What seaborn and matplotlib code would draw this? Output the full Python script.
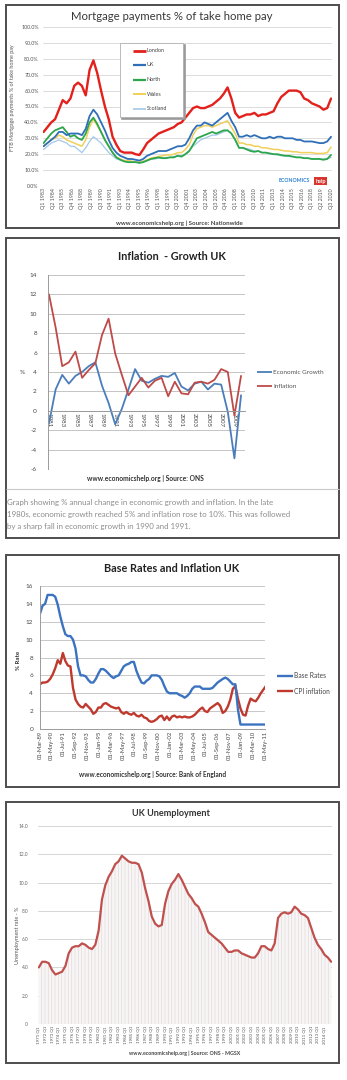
import matplotlib
matplotlib.use("Agg")
import matplotlib.pyplot as plt
from matplotlib.patches import Rectangle
from matplotlib.lines import Line2D
import numpy as np
import pandas as pd
import seaborn as sns

# ---------------- data ----------------
# Mortgage payments as % of take-home pay, half-yearly (Q1, Q3) from Q1 1983 to Q3 2020
mort_london = [34, 37, 40, 42, 48, 54, 52, 55, 63, 65, 63, 57, 73, 79, 71, 60, 50, 42, 31, 26,
               22, 21, 21, 21, 20, 19.5, 23, 27, 29, 31, 33, 34, 35, 36, 37, 39, 40, 43, 46, 49,
               50, 49, 49, 50, 51, 53, 55, 58, 62, 55, 46, 43, 44, 45, 45, 46, 44, 45, 45, 46,
               47, 52, 56, 58, 60, 60, 60, 59, 55, 54, 52, 51, 50, 48, 49, 55]
mort_uk = [25, 27, 29, 31, 34, 34, 32, 33, 33, 33, 32, 36, 44, 48, 45, 40, 35, 29, 24, 21,
           19, 18, 17, 17, 16.5, 16, 17, 19, 20, 21, 22, 22, 22, 23, 24, 25, 25, 26, 30, 35,
           38, 38, 40, 39, 38, 40, 42, 44, 46, 41, 37, 31, 31, 32, 31, 32, 31, 30, 30, 31,
           30, 31, 31, 30, 30, 30, 29, 29, 28, 28, 28, 27.5, 27, 27, 28, 31]
mort_north = [27, 30, 33, 35, 36, 37, 34, 31, 32, 30, 29, 33, 40, 43, 39, 34, 29, 25, 21, 18,
              16.5, 15.5, 15, 15, 15, 14.5, 15, 16, 17, 17.5, 18, 17.5, 17.5, 18, 18, 19, 18.5, 20, 22, 26,
              30, 31, 32, 33, 34, 33, 34, 35, 35, 33, 29, 24, 24, 23, 22, 21.5, 22, 21, 21, 20.5,
              20, 20, 19.5, 19, 19, 18.5, 18, 18, 17.5, 17.5, 17, 17, 17, 16.5, 17, 19.5]
mort_wales = [25, 27, 29, 30, 32, 31, 29, 28, 27, 26, 25, 29, 37, 42, 38, 34, 29, 25, 21, 18,
              17, 16, 16, 15.5, 15, 15, 15.5, 16.5, 17.5, 18, 18.5, 19, 19.5, 19.5, 20, 21, 21, 23, 26, 32,
              36, 37, 38, 38, 37, 38, 39, 40, 41, 37, 33, 27, 27, 26, 26, 25, 25, 24, 24, 23.5,
              23, 23, 22.5, 22, 22, 21.5, 21.5, 21, 21, 21, 21, 20.5, 20.5, 20.5, 21, 24.5]
mort_scotland = [23, 25, 27, 28, 29, 28, 27, 25, 25, 23, 21, 24, 28, 31, 29, 27, 24, 21, 19, 17,
                 16.5, 16, 16, 15.5, 15, 15, 15.5, 16, 17, 17, 17.5, 17.5, 18, 18, 18.5, 19, 19, 20, 22, 25,
                 27, 29, 30, 31, 32, 32, 33, 34, 35, 33, 29, 24, 24, 23.5, 23, 22, 22, 21, 21, 20,
                 20, 19.5, 19, 19, 18.5, 18.5, 18, 18, 17.5, 17.5, 17, 17, 17, 17, 17, 18]
mort_regions = ["London", "UK", "North", "Wales", "Scotland"]
mort_colors = ["#e3201b", "#2f6fb7", "#2ca64c", "#f1cf5a", "#a3c8ea"]
mort_widths = [1.7, 1.3, 1.3, 1.1, 0.9]

# Annual % change, 1981-2010
infl_years = list(range(1981, 2011))
econ_growth = [-1.3, 2.2, 3.7, 2.8, 3.6, 4.0, 4.6, 5.0, 2.6, 0.8, -1.4, 0.2, 2.2, 4.3, 3.1,
               2.9, 3.3, 3.6, 3.5, 3.9, 2.5, 2.1, 2.8, 3.0, 2.2, 2.8, 2.7, -0.1, -4.9, 1.6]
inflation = [12.0, 8.6, 4.6, 5.0, 6.1, 3.4, 4.2, 4.9, 7.8, 9.5, 5.9, 3.7, 1.6, 2.5, 3.4,
             2.4, 3.1, 3.4, 1.5, 3.0, 1.8, 1.7, 2.9, 3.0, 2.8, 3.2, 4.3, 4.0, -0.5, 3.6]

# Quarterly readings from Mar 1989 (months since Mar 1989 = 3 * index)
base_rate = [12.9, 13.8, 14.0, 15.0, 15.0, 15.0, 14.8, 13.9, 12.6, 11.5, 10.6, 10.4, 10.4, 10.0, 9.0,
             7.0, 6.0, 6.0, 5.9, 5.5, 5.2, 5.2, 5.6, 6.2, 6.7, 6.7, 6.5, 6.2, 5.9, 5.7,
             5.9, 6.0, 6.5, 7.0, 7.2, 7.3, 7.5, 7.5, 6.5, 5.8, 5.2, 5.1, 5.4, 5.6, 6.0,
             6.0, 6.0, 5.9, 5.5, 4.8, 4.2, 4.0, 4.0, 4.0, 4.0, 3.8, 3.7, 3.5, 3.7, 4.0,
             4.5, 4.75, 4.75, 4.75, 4.5, 4.5, 4.5, 4.5, 4.6, 4.9, 5.2, 5.4, 5.6, 5.75, 5.6,
             5.3, 5.0, 5.0, 2.2, 0.5, 0.5, 0.5, 0.5, 0.5, 0.5, 0.5, 0.5, 0.5, 0.5, 0.5]
cpi_inflation = [5.0, 5.2, 5.2, 5.3, 5.6, 6.1, 6.8, 7.7, 7.3, 8.5, 7.6, 7.1, 7.0, 4.6, 3.3,
                 2.8, 2.5, 2.4, 2.8, 2.5, 2.2, 1.7, 1.9, 2.4, 2.4, 2.8, 2.9, 2.7, 2.5, 2.4,
                 2.3, 2.4, 1.9, 1.7, 1.9, 1.7, 1.6, 1.8, 1.5, 1.4, 1.6, 1.3, 1.2, 0.9, 0.8,
                 0.9, 1.1, 1.4, 1.5, 1.0, 1.4, 1.0, 1.4, 1.5, 1.3, 1.4, 1.3, 1.4, 1.3, 1.3,
                 1.4, 1.6, 1.9, 2.2, 2.4, 2.0, 1.9, 2.3, 2.5, 2.7, 2.9, 2.6, 1.8, 2.0, 2.5,
                 3.3, 4.5, 4.8, 3.4, 2.3, 1.6, 1.5, 2.6, 3.4, 3.2, 3.1, 3.5, 4.0, 4.4, 4.8]
rate_date_labels = ["01-Mar-89", "01-May-90", "01-Jul-91", "01-Sep-92", "01-Nov-93", "01-Jan-95",
                    "01-Mar-96", "01-May-97", "01-Jul-98", "01-Sep-99", "01-Nov-00", "01-Jan-02",
                    "01-Mar-03", "01-May-04", "01-Jul-05", "01-Sep-06", "01-Nov-07", "01-Jan-09",
                    "01-Mar-10", "01-May-11"]

# Unemployment rate %, half-yearly from 1971 Q1 to 2015 Q1
unemployment = [4.0, 4.4, 4.4, 4.3, 3.8, 3.5, 3.6, 3.7, 4.1, 5.0, 5.4, 5.5, 5.5, 5.7, 5.6,
                5.4, 5.3, 5.6, 6.6, 8.8, 9.8, 10.4, 10.8, 11.3, 11.5, 11.9, 11.7, 11.5, 11.4, 11.4,
                11.3, 10.7, 9.6, 8.7, 7.6, 7.1, 6.9, 7.0, 8.5, 9.4, 9.9, 10.2, 10.6, 10.2, 9.7,
                9.2, 8.9, 8.5, 8.3, 7.8, 7.2, 6.5, 6.3, 6.1, 5.9, 5.7, 5.4, 5.1, 5.1, 5.2,
                5.2, 5.0, 4.9, 4.8, 4.7, 4.7, 5.0, 5.5, 5.5, 5.3, 5.2, 5.7, 7.5, 7.8, 7.9,
                7.8, 7.9, 8.3, 8.1, 7.8, 7.7, 7.5, 6.8, 6.1, 5.6, 5.3, 4.9, 4.7, 4.4]

# ---------------- style ----------------
sns.set_theme(style="white")
plt.rcParams["font.family"] = ["Lato", "DejaVu Sans"]
plt.rcParams["hatch.linewidth"] = 0.5

W, H = 347, 1080
fig = plt.figure(figsize=(W / 100, H / 100), dpi=100)
fig.patch.set_facecolor("white")


def px_axes(l, t, r, b):
    return fig.add_axes([l / W, 1 - b / H, (r - l) / W, (b - t) / H])


def frame(l, t, r, b, color="#4d4d4d", lw=1.4, fill=False, fc="none", z=0):
    fig.patches.append(Rectangle((l / W, 1 - b / H), (r - l) / W, (b - t) / H,
                                 transform=fig.transFigure, fill=fill, facecolor=fc,
                                 edgecolor=color, linewidth=lw, zorder=z))


def ftext(x, y, s, **kw):
    kw.setdefault("ha", "center")
    kw.setdefault("va", "center")
    kw.setdefault("zorder", 6)
    fig.text(x / W, 1 - y / H, s, **kw)


def fline(x0, x1, y, color, lw):
    fig.add_artist(Line2D([x0 / W, x1 / W], [1 - y / H, 1 - y / H], color=color,
                          linewidth=lw, transform=fig.transFigure, solid_capstyle="butt",
                          zorder=6))


def clean(ax, grid_color):
    ax.set_facecolor("none")
    ax.yaxis.grid(True, color=grid_color, linewidth=0.7)
    ax.xaxis.grid(False)
    ax.set_axisbelow(True)
    for s in ax.spines.values():
        s.set_visible(False)
    ax.tick_params(length=0, pad=1.5)
    ax.set_xlabel("")
    ax.set_ylabel("")


# panel frames
frame(6, 5, 339, 228)
frame(6, 238, 339, 538)
frame(6, 555, 339, 787)
frame(6, 802, 339, 1063)

# ---------------- 1. Mortgage payments ----------------
ax1 = px_axes(43, 27, 332, 186)
q_mort = np.arange(len(mort_london)) * 2
mort_df = pd.DataFrame({"q": q_mort, "London": mort_london, "UK": mort_uk, "North": mort_north,
                        "Wales": mort_wales, "Scotland": mort_scotland})
for name, col, lw in reversed(list(zip(mort_regions, mort_colors, mort_widths))):
    sns.lineplot(data=mort_df, x="q", y=name, ax=ax1, color=col, linewidth=lw)
clean(ax1, "#dcdcdc")
ax1.set_ylim(0, 100)
ax1.set_xlim(-0.3, 150.5)
ax1.set_yticks(np.arange(0, 101, 10))
ax1.set_yticklabels([f"{v:.1f}%" for v in np.arange(0, 101, 10)], fontsize=3.8, color="#555555")
mort_ticks = np.arange(0, 151, 5)
ax1.set_xticks(mort_ticks)
ax1.set_xticklabels([f"Q{q % 4 + 1} {1983 + q // 4}" for q in mort_ticks], rotation=90,
                    fontsize=3.8, color="#555555")
ax1.tick_params(axis="y", pad=3)

ftext(172, 17, "Mortgage payments % of take home pay", fontsize=8.2, color="#3a3a3a")
ftext(13, 98, "FTB Mortgage payments % of take home pay", rotation=90, fontsize=3.9, color="#555555")
ftext(179, 223, "www.economicshelp.org | Source: Nationwide", fontsize=4.4, color="#444444",
      weight="bold")

# legend box
frame(121.5, 44.5, 184.5, 118.5, color="#9a9a9a", lw=1.2, fill=True, fc="#9a9a9a", z=2)
frame(120, 43, 183, 117, color="#b0b0b0", lw=0.6, fill=True, fc="white", z=3)
for i, (name, col, lw) in enumerate(zip(mort_regions, mort_colors, mort_widths)):
    y = 50.5 + i * 14.5
    fline(133, 146, y, col, lw + 0.3)
    ftext(146.5, y, name, ha="left", fontsize=3.9, color="#444444")

# logo
ftext(294, 181, "ECONOMICS", fontsize=3.7, color="#2b7fd4", weight="bold")
ftext(320.5, 181, "help", fontsize=3.9, color="white", weight="bold",
      bbox=dict(facecolor="#d8352d", edgecolor="none", pad=0.9))

# ---------------- 2. Inflation - Growth ----------------
ax2 = px_axes(48, 275, 245, 469)
infl_df = pd.DataFrame({"i": np.arange(len(infl_years)), "Economic Growth": econ_growth,
                        "Inflation": inflation})
sns.lineplot(data=infl_df, x="i", y="Economic Growth", ax=ax2, color="#4a7ebb", linewidth=1.3)
sns.lineplot(data=infl_df, x="i", y="Inflation", ax=ax2, color="#be4b48", linewidth=1.3)
clean(ax2, "#c4c4c4")
ax2.set_ylim(-6, 14)
ax2.set_xlim(-0.15, 29.6)
ax2.set_yticks(np.arange(-6, 15, 2))
ax2.set_yticklabels([str(v) for v in np.arange(-6, 15, 2)], fontsize=4.6, color="#444444")
ax2.tick_params(axis="y", pad=8)
ax2.spines["left"].set_visible(True)
ax2.spines["left"].set_color("#9a9a9a")
ax2.spines["left"].set_linewidth(0.7)
ax2.spines["bottom"].set_visible(True)
ax2.spines["bottom"].set_position(("data", 0))
ax2.spines["bottom"].set_color("#9a9a9a")
ax2.spines["bottom"].set_linewidth(0.7)
ax2.set_xticks(np.arange(0, 30, 2))
ax2.set_xticklabels([str(y) for y in infl_years[::2]], rotation=270, fontsize=4.4, color="#444444")
ax2.tick_params(axis="x", pad=1.5)

ftext(172, 257, "Inflation  - Growth UK", fontsize=7.8, color="#222222", weight="bold")
ftext(22, 373, "%", fontsize=4.6, color="#444444")
fline(257, 272, 372, "#4a7ebb", 1.3)
ftext(273, 372, "Economic Growth", ha="left", fontsize=4.6, color="#555555")
fline(257, 272, 386, "#be4b48", 1.3)
ftext(273, 386, "Inflation", ha="left", fontsize=4.6, color="#555555")
ftext(145, 478, "www.economicshelp.org | Source: ONS", fontsize=4.8, color="#333333", weight="bold")
fline(6, 339, 489, "#c8c8c8", 0.8)
caption = ["Graph showing % annual change in economic growth and inflation. In the late",
           "1980s, economic growth reached 5% and inflation rose to 10%. This was followed",
           "by a sharp fall in economic growth in 1990 and 1991."]
for k, line in enumerate(caption):
    ftext(7, 503 + k * 11.6, line, ha="left", fontsize=5.7, color="#8c8c8c")

# ---------------- 3. Base rates and inflation ----------------
ax3 = px_axes(40, 586, 265, 729)
rate_df = pd.DataFrame({"m": np.arange(len(base_rate)) * 3, "Base Rates": base_rate,
                        "CPI inflation": cpi_inflation})
sns.lineplot(data=rate_df, x="m", y="CPI inflation", ax=ax3, color="#c0392f", linewidth=1.7)
sns.lineplot(data=rate_df, x="m", y="Base Rates", ax=ax3, color="#3b73c0", linewidth=1.7)
clean(ax3, "#c8c8c8")
ax3.set_ylim(0, 16)
ax3.set_xlim(0, 266)
ax3.set_yticks(np.arange(0, 17, 2))
ax3.set_yticklabels([str(v) for v in np.arange(0, 17, 2)], fontsize=4.6, color="#444444")
ax3.tick_params(axis="y", pad=5)
for side in ("left", "bottom"):
    ax3.spines[side].set_visible(True)
    ax3.spines[side].set_color("#9a9a9a")
    ax3.spines[side].set_linewidth(0.7)
ax3.set_xticks(np.arange(0, 267, 14))
ax3.set_xticklabels(rate_date_labels, rotation=90, fontsize=4.2, color="#444444")

ftext(172, 568, "Base Rates and Inflation UK", fontsize=7.8, color="#222222", weight="bold")
ftext(18, 660, "% Rate", rotation=90, fontsize=4.4, color="#333333", weight="bold")
fline(277, 293, 676, "#3b73c0", 1.7)
ftext(294, 676, "Base Rates", ha="left", fontsize=4.8, color="#444444")
fline(277, 293, 691, "#c0392f", 1.7)
ftext(294, 691, "CPI inflation", ha="left", fontsize=4.8, color="#444444")
ftext(153, 775, "www.economicshelp.org | Source: Bank of England", fontsize=4.7,
      color="#333333", weight="bold")

# ---------------- 4. UK unemployment ----------------
ax4 = px_axes(38, 826, 332, 1024)
q_unemp = np.arange(len(unemployment)) * 2
unemp_df = pd.DataFrame({"q": q_unemp, "rate": unemployment})
ax4.fill_between(unemp_df["q"], unemp_df["rate"], 0, facecolor="#f7f5f5", edgecolor="#e4dcdc",
                 hatch="|||||", linewidth=0)
sns.lineplot(data=unemp_df, x="q", y="rate", ax=ax4, color="#c0504d", linewidth=1.6)
clean(ax4, "#d6d6d6")
ax4.set_ylim(0, 14)
ax4.set_xlim(-0.5, 176.5)
ax4.set_yticks(np.arange(0, 15, 2))
ax4.set_yticklabels([".0"] + [f"{v:.1f}" for v in np.arange(2, 15, 2)], fontsize=3.4,
                    color="#666666")
ax4.tick_params(axis="y", pad=7)
unemp_ticks = np.arange(0, 176, 4)
ax4.set_xticks(unemp_ticks)
ax4.set_xticklabels([f"{1971 + q // 4} Q{q % 4 + 1}" for q in unemp_ticks], rotation=90,
                    fontsize=3.2, color="#555555")

ftext(171, 813, "UK Unemployment", fontsize=6.6, color="#333333", weight="bold")
ftext(18, 935, "Unemployment rate - %", rotation=90, fontsize=4.0, color="#555555")
ftext(185, 1053, "www.economicshelp.org | Source: ONS - MGSX", fontsize=3.8, color="#444444",
      weight="bold")

fig.savefig("out.png", dpi=100, facecolor="white")
